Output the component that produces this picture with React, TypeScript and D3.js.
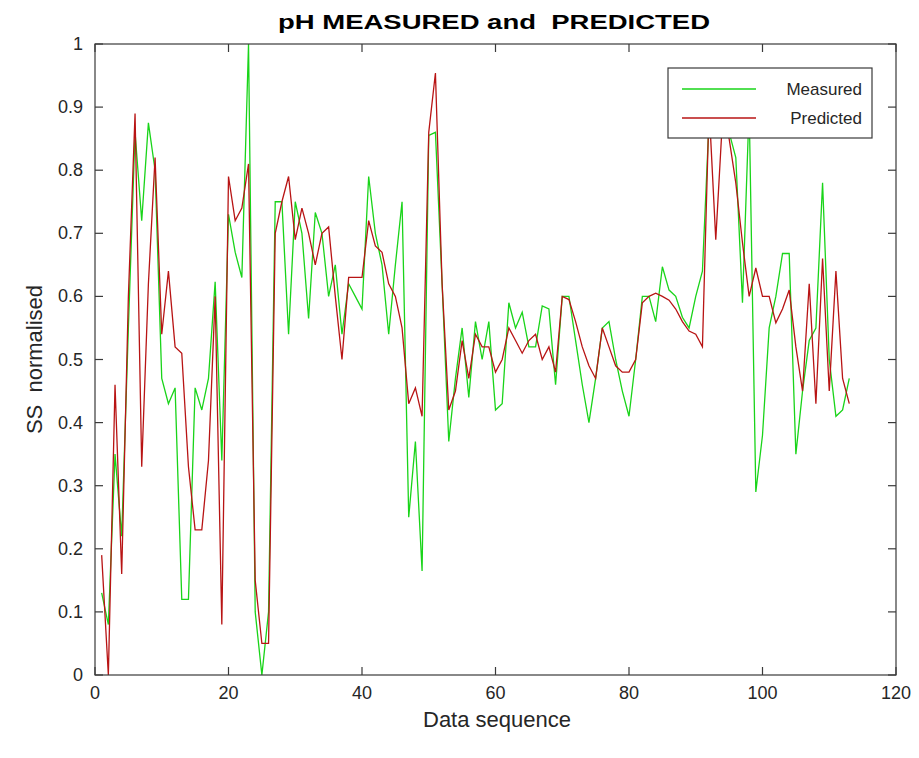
import React from "react";
import * as d3 from "d3";

const measured: number[] = [
  0.13, 0.08, 0.35, 0.22, 0.55, 0.86, 0.72, 0.875, 0.8, 0.47,
  0.43, 0.455, 0.12, 0.12, 0.455, 0.42, 0.47, 0.623, 0.34, 0.73,
  0.67, 0.63, 1.0, 0.1, 0.0, 0.1, 0.75, 0.75, 0.54, 0.75,
  0.7, 0.565, 0.733, 0.7, 0.6, 0.65, 0.54, 0.62, 0.6, 0.58,
  0.79, 0.7, 0.65, 0.54, 0.65, 0.75, 0.25, 0.37, 0.165, 0.855,
  0.86, 0.62, 0.37, 0.47, 0.55, 0.44, 0.56, 0.5, 0.56, 0.42,
  0.43, 0.59, 0.55, 0.575, 0.52, 0.52, 0.585, 0.58, 0.46, 0.6,
  0.6, 0.53, 0.46, 0.4, 0.47, 0.55, 0.56, 0.5, 0.45, 0.41,
  0.5, 0.6, 0.6, 0.56, 0.647, 0.61, 0.6, 0.567, 0.55, 0.6,
  0.64, 0.88, 0.92, 0.9, 0.86, 0.82, 0.59, 0.9, 0.29, 0.38,
  0.55, 0.6, 0.668, 0.668, 0.35, 0.45, 0.53, 0.55, 0.78, 0.5,
  0.41, 0.42, 0.47,
];

const predicted: number[] = [
  0.19, 0.0, 0.46, 0.16, 0.6, 0.89, 0.33, 0.62, 0.82, 0.54,
  0.64, 0.52, 0.51, 0.33, 0.23, 0.23, 0.34, 0.6, 0.08, 0.79,
  0.72, 0.74, 0.81, 0.15, 0.05, 0.05, 0.7, 0.75, 0.79, 0.69,
  0.74, 0.7, 0.65, 0.7, 0.71, 0.6, 0.5, 0.63, 0.63, 0.63,
  0.72, 0.68, 0.67, 0.62, 0.6, 0.55, 0.43, 0.455, 0.41, 0.86,
  0.954, 0.62, 0.42, 0.45, 0.53, 0.47, 0.54, 0.52, 0.52, 0.48,
  0.5, 0.55, 0.53, 0.51, 0.53, 0.54, 0.5, 0.52, 0.48, 0.6,
  0.595, 0.56, 0.52, 0.49, 0.47, 0.55, 0.52, 0.49, 0.48, 0.48,
  0.5, 0.59, 0.6, 0.605, 0.6, 0.594, 0.58, 0.56, 0.545, 0.54,
  0.52, 0.9, 0.69, 0.88, 0.85, 0.78, 0.685, 0.6, 0.645, 0.6,
  0.6, 0.558, 0.58, 0.61, 0.52, 0.45, 0.62, 0.43, 0.66, 0.45,
  0.64, 0.47, 0.43,
];

const xTicks: number[] = [0, 20, 40, 60, 80, 100, 120];
const yTicks: number[] = [0, 0.1, 0.2, 0.3, 0.4, 0.5, 0.6, 0.7, 0.8, 0.9, 1];
const seriesNames: string[] = ["Measured", "Predicted"];

const W = 919;
const H = 758;
const L = 95;
const R = 896;
const T = 44;
const B = 675;
const TICK = 8;
const AXIS = "#3a3a3a";
const TXT = "#262626";
const GREEN = "#19d419";
const RED = "#b81414";
const FONT = "'Liberation Sans', Arial, Helvetica, sans-serif";

export default function App() {
  const x = d3.scaleLinear().domain([0, 120]).range([L, R]);
  const y = d3.scaleLinear().domain([0, 1]).range([B, T]);
  const line = d3
    .line<number>()
    .x((_, i) => x(i + 1))
    .y((d) => y(d));

  return (
    <svg
      width={W}
      height={H}
      style={{ position: "absolute", left: 0, top: 0, background: "#fff" }}
      fontFamily={FONT}
    >
      <rect x={0} y={0} width={W} height={H} fill="#fff" />
      <defs>
        <clipPath id="plot">
          <rect x={L} y={T} width={R - L} height={B - T} />
        </clipPath>
      </defs>
      <g clipPath="url(#plot)">
        <path d={line(measured) || ""} fill="none" stroke={GREEN} strokeWidth={1.3} />
        <path d={line(predicted) || ""} fill="none" stroke={RED} strokeWidth={1.3} />
      </g>
      <rect x={L} y={T} width={R - L} height={B - T} fill="none" stroke={AXIS} strokeWidth={1.2} />
      {xTicks.map((t) => (
        <g key={"xt" + t}>
          <line x1={x(t)} x2={x(t)} y1={B} y2={B - TICK} stroke={AXIS} strokeWidth={1.2} />
          <line x1={x(t)} x2={x(t)} y1={T} y2={T + TICK} stroke={AXIS} strokeWidth={1.2} />
          <text x={x(t)} y={B + 24} textAnchor="middle" fontSize={18} fill={TXT}>
            {t}
          </text>
        </g>
      ))}
      {yTicks.map((t) => (
        <g key={"yt" + t}>
          <line x1={L} x2={L + TICK} y1={y(t)} y2={y(t)} stroke={AXIS} strokeWidth={1.2} />
          <line x1={R} x2={R - TICK} y1={y(t)} y2={y(t)} stroke={AXIS} strokeWidth={1.2} />
          <text x={L - 12} y={y(t) + 6} textAnchor="end" fontSize={18} fill={TXT}>
            {String(t)}
          </text>
        </g>
      ))}
      <text
        x={494}
        y={29}
        textAnchor="middle"
        fontSize={21}
        fontWeight="bold"
        fill="#000"
        style={{ whiteSpace: "pre" }}
        textLength={432}
        lengthAdjust="spacingAndGlyphs"
      >
        {"pH MEASURED and  PREDICTED"}
      </text>
      <text x={497} y={727} textAnchor="middle" fontSize={22} fill={TXT}>
        Data sequence
      </text>
      <text
        transform={`translate(42, ${(T + B) / 2}) rotate(-90)`}
        textAnchor="middle"
        fontSize={22}
        fill={TXT}
        style={{ whiteSpace: "pre" }}
      >
        {"SS  normalised"}
      </text>
      <g>
        <rect x={668} y={68} width={204} height={70} fill="#fff" stroke={AXIS} strokeWidth={1.2} />
        <line x1={682} x2={756} y1={89} y2={89} stroke={GREEN} strokeWidth={1.5} />
        <line x1={682} x2={756} y1={118} y2={118} stroke={RED} strokeWidth={1.5} />
        <text x={862} y={95} textAnchor="end" fontSize={17} fill={TXT}>
          {seriesNames[0]}
        </text>
        <text x={862} y={124} textAnchor="end" fontSize={17} fill={TXT}>
          {seriesNames[1]}
        </text>
      </g>
    </svg>
  );
}
